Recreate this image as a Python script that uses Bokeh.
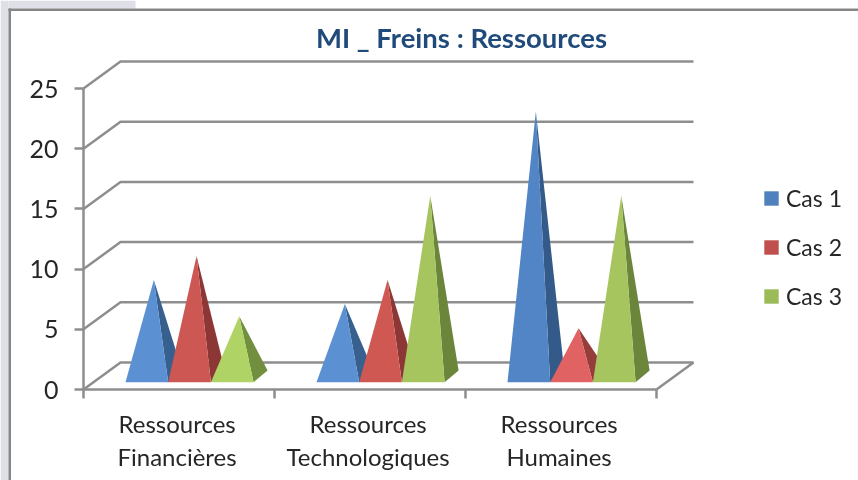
from bokeh.plotting import figure
from bokeh.embed import file_html
from bokeh.resources import INLINE
from bokeh.models import (Range1d, LinearAxis, FixedTicker, BoxAnnotation, Label, Legend, LegendItem)

categories = ["Ressources\nFinancières", "Ressources\nTechnologiques", "Ressources\nHumaines"]
series_names = ["Cas 1", "Cas 2", "Cas 3"]
cas1 = [8, 6, 22]
cas2 = [10, 8, 4]
cas3 = [5, 15, 15]
y_ticks = [0, 5, 10, 15, 20, 25]
title_text = "MI _ Freins : Ressources"

legend_colors = ["#4F81BD", "#C0504D", "#9BBB59"]
front_colors = [["#5B90D2", "#5B90D2", "#5285C6"], ["#CD5752", "#CF5853", "#E06262"], ["#AFD465", "#A6C55F", "#A6C55F"]]
side_colors = [["#37608F", "#37608F", "#335A88"], ["#8C3735", "#8C3735", "#963C3A"], ["#728F3F", "#6B853B", "#6B853B"]]

# layout: pixel position of the plot's origin and scale
X0, Y0, PX_CAT, PX_UNIT, W, H = 83, 389, 191, 12.04, 858, 480
DX, DY = 37 / PX_CAT, 27 / PX_UNIT       # depth of the 3-D box
BASE_LEFT, BAR_W = 42 / PX_CAT, 42.7 / PX_CAT
BASE_FRONT, BASE_BACK = 7.3 / PX_UNIT, 19 / PX_UNIT
BASE_DX = 14 / PX_CAT
LABEL_POS = 0.49
GRID = "#8E8E8E"
TEXT = "#262626"
FONT = "Lato"


def fx(px):
    return (px - X0) / PX_CAT


def fy(py):
    return (Y0 - py) / PX_UNIT


p = figure(width=W, height=H, output_backend="svg", toolbar_location=None,
           x_range=Range1d(fx(0), fx(W)), y_range=Range1d(fy(H), fy(0)),
           x_axis_type=None, y_axis_type=None, min_border=0,
           outline_line_color=None, background_fill_color="white", border_fill_color="white")
p.styles = {"position": "fixed", "left": "0px", "top": "0px"}
p.xgrid.visible = False
p.ygrid.visible = False

# window chrome
for l, r, t, b, c in [(0, 8, 0, H, "#DEDFE7"), (8, 135, 0, 8, "#DEDFE7"),
                      (8, W, 8, 10.5, "#868686"), (8, 10.5, 8, H, "#868686")]:
    p.add_layout(BoxAnnotation(left=fx(l), right=fx(r), top=fy(t), bottom=fy(b),
                               fill_color=c, fill_alpha=1, line_color=None, level="underlay"))

# walls
n = len(categories)
for v in y_ticks:
    p.line([0, DX, n + DX], [v, v + DY, v + DY], line_color=GRID, line_width=2.5)
p.line([n, n + DX], [0, DY], line_color=GRID, line_width=2.5)

# pyramids
all_series = [cas1, cas2, cas3]
for c in range(n):
    for s in range(3):
        v = all_series[s][c]
        l = c + BASE_LEFT + s * BAR_W
        r = l + BAR_W
        ax = (l + r) / 2 + BASE_DX / 2
        ay = (BASE_FRONT + BASE_BACK) / 2 + v
        p.patch([r, r + BASE_DX, ax], [BASE_FRONT, BASE_BACK, ay],
                fill_color=side_colors[s][c], line_color=None)
        p.patch([l, r, ax], [BASE_FRONT, BASE_FRONT, ay],
                fill_color=front_colors[s][c], line_color=None)

# axes, drawn inside the frame at the origin
yax = LinearAxis(ticker=FixedTicker(ticks=y_ticks), fixed_location=0, bounds=(0, 25),
                 axis_line_color=GRID, axis_line_width=2.5,
                 major_tick_line_color=GRID, major_tick_line_width=2.5,
                 major_tick_in=0, major_tick_out=9, minor_tick_line_color=None,
                 major_label_text_font=FONT, major_label_text_font_size="25px",
                 major_label_text_color=TEXT, major_label_standoff=16)
p.add_layout(yax, "left")
xax = LinearAxis(ticker=FixedTicker(ticks=[i + LABEL_POS for i in range(n)], minor_ticks=list(range(n + 1))),
                 fixed_location=0, bounds=(0, n),
                 major_label_overrides={i + LABEL_POS: t for i, t in enumerate(categories)},
                 axis_line_color=GRID, axis_line_width=2.5,
                 major_tick_line_color=None, minor_tick_line_color=GRID, minor_tick_line_width=2.5,
                 minor_tick_in=0, minor_tick_out=9,
                 major_label_text_font=FONT, major_label_text_font_size="24px",
                 major_label_text_color=TEXT, major_label_standoff=10,
                 major_label_text_line_height=1.15,
                 major_label_orientation="horizontal")
p.add_layout(xax, "below")

# title
p.add_layout(Label(x=fx(461), y=fy(37), text=title_text, text_align="center", text_baseline="middle",
                   text_font=FONT, text_font_style="bold", text_font_size="27.5px", text_color="#1F4A7A"))

# legend: a zero-area patch at the origin stands behind each key
items = []
for name, col in zip(series_names, legend_colors):
    r = p.patches(xs=[[0, 0, 0]], ys=[[0, 0, 0]], fill_color=col, line_color=None)
    items.append(LegendItem(label=name, renderers=[r]))
p.add_layout(Legend(items=items, location=(762, 170), background_fill_alpha=0, border_line_color=None,
                    label_text_font=FONT, label_text_font_size="23px", label_text_color=TEXT,
                    glyph_width=18, glyph_height=18, spacing=21, label_standoff=6,
                    margin=0, padding=8), "center")

open("out.html", "w").write(file_html(p, INLINE))
